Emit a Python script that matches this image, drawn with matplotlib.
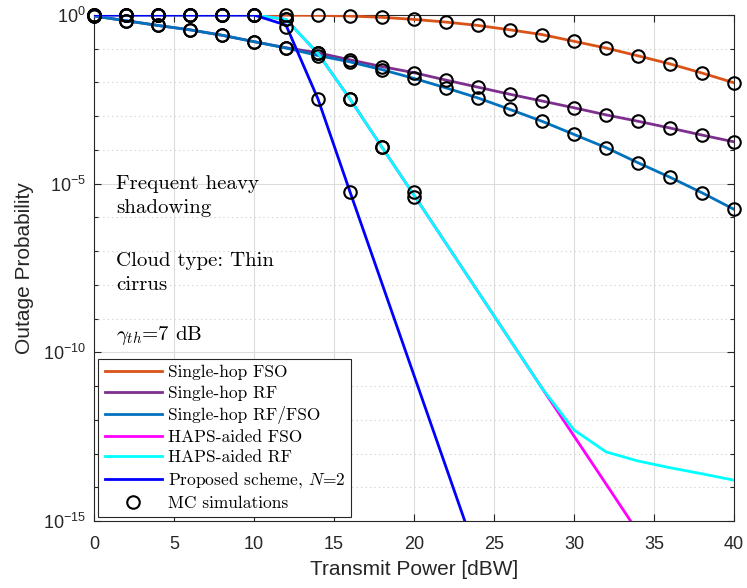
import numpy as np
import matplotlib
matplotlib.use("Agg")
import matplotlib.pyplot as plt
from matplotlib.lines import Line2D
from matplotlib.font_manager import FontProperties
from matplotlib.ticker import LogFormatterSciNotation, NullFormatter

# Outage probabilities, stored as log10 values
x = np.arange(0, 41, 2)
fso_single = [0, 0, 0, 0, 0, -0.003, -0.005, -0.01, -0.03, -0.07, -0.13,
              -0.21, -0.31, -0.44, -0.58, -0.78, -0.98, -1.21, -1.45, -1.72, -2.01]
rf_single = [-0.03, -0.17, -0.31, -0.44, -0.60, -0.79, -0.97, -1.12, -1.33, -1.53, -1.71,
             -1.93, -2.14, -2.35, -2.55, -2.75, -2.96, -3.15, -3.35, -3.56, -3.76]
rffso_single = [-0.03, -0.17, -0.31, -0.44, -0.60, -0.79, -0.98, -1.20, -1.39, -1.62, -1.88,
                -2.16, -2.46, -2.80, -3.15, -3.54, -3.93, -4.38, -4.81, -5.27, -5.76]
haps_fso = [0, 0, 0, 0, 0, 0, -0.13, -1.14, -2.49, -3.92, -5.34,
            -6.77, -8.20, -9.63, -11.06, -12.48, -13.90, -15.33, -16.75, -18.20, -19.60]
haps_rf = [0, 0, 0, 0, 0, 0, -0.13, -1.14, -2.49, -3.92, -5.34,
           -6.77, -8.20, -9.63, -11.06, -12.30, -12.95, -13.22, -13.42, -13.60, -13.79]
x_prop = np.arange(0, 25, 2)
proposed = [0, 0, 0, 0, 0, 0, -0.30, -2.49, -5.24, -7.96, -10.68, -13.40, -16.12]

# Monte Carlo points
x_mc = np.arange(0, 41, 2)
mc_fso = [0, 0, 0, 0, 0, 0, 0, -0.01, -0.03, -0.07, -0.13,
          -0.21, -0.31, -0.44, -0.58, -0.78, -0.98, -1.21, -1.45, -1.72, -2.01]
mc_rf = [-0.03, -0.17, -0.31, -0.44, -0.60, -0.79, -0.97, -1.12, -1.33, -1.53, -1.71,
         -1.93, -2.14, -2.35, -2.55, -2.75, -2.96, -3.15, -3.35, -3.56, -3.76]
mc_rffso = [-0.03, -0.17, -0.31, -0.44, -0.60, -0.79, -0.98, -1.22, -1.39, -1.62, -1.88,
            -2.16, -2.46, -2.80, -3.15, -3.54, -3.93, -4.38, -4.81, -5.27, -5.76]
x_mc_haps = np.arange(0, 21, 2)
mc_haps_fso = [0, 0, 0, 0, 0, 0, -0.13, -1.14, -2.49, -3.92, -5.24]
mc_haps_rf = [0, 0, 0, 0, 0, 0, -0.13, -1.14, -2.49, -3.92, -5.39]
x_mc_prop = np.arange(0, 17, 2)
mc_prop = [0, 0, 0, 0, 0, 0, -0.36, -2.49, -5.24]

plt.rcParams["font.family"] = "Liberation Sans"
plt.rcParams["mathtext.fontset"] = "custom"
plt.rcParams["mathtext.rm"] = "Liberation Sans"
plt.rcParams["mathtext.it"] = "Liberation Sans:italic"

dark = "#262626"
fig = plt.figure(figsize=(7.47, 5.88), dpi=100)
ax = fig.add_axes([0.1258, 0.1139, 0.8568, 0.8606])

series = [
    (x, fso_single, "#D95319", "Single-hop FSO"),
    (x, rf_single, "#7E2F8E", "Single-hop RF"),
    (x, rffso_single, "#0072BD", "Single-hop RF/FSO"),
    (x, haps_fso, "#FF00FF", "HAPS-aided FSO"),
    (x, haps_rf, "#00FFFF", "HAPS-aided RF"),
    (x_prop, proposed, "#0000FF", "Proposed scheme, $N$=2"),
]
handles = []
for xs, ys, col, lab in series:
    ax.semilogy(xs, 10.0 ** np.array(ys), color=col, lw=2, zorder=3)
    handles.append(Line2D([], [], color=col, lw=2, label=lab))

for xs, ys in [(x_mc, mc_fso), (x_mc, mc_rf), (x_mc, mc_rffso),
               (x_mc_haps, mc_haps_fso), (x_mc_haps, mc_haps_rf), (x_mc_prop, mc_prop)]:
    ax.semilogy(xs, 10.0 ** np.array(ys), "o", mfc="none", mec="black", ms=9, mew=1.5,
                zorder=4, clip_on=False)
handles.append(Line2D([], [], ls="none", marker="o", mfc="none", mec="black", ms=9, mew=1.5,
                      label="MC simulations"))

ax.set_xlim(0, 40)
ax.set_ylim(1e-15, 1)
ax.set_xticks(np.arange(0, 41, 5))
ax.set_yticks([1e-15, 1e-10, 1e-5, 1])
ax.set_yticks([10.0 ** k for k in range(-15, 1)], minor=True)
ax.yaxis.set_major_formatter(LogFormatterSciNotation())
ax.yaxis.set_minor_formatter(NullFormatter())
ax.tick_params(which="both", direction="in", top=True, right=True, colors=dark,
               labelsize=13, length=5, width=0.8)
ax.tick_params(which="minor", length=3)
ax.tick_params(axis="x", pad=11)
ax.tick_params(axis="y", pad=6)
for s in ax.spines.values():
    s.set_color(dark)
    s.set_linewidth(0.8)

ax.grid(which="major", color="#dcdcdc", lw=0.8, ls="-")
ax.grid(which="minor", axis="y", color="#cccccc", lw=0.8, ls=(0, (1, 3)))
ax.set_axisbelow(True)

ax.set_xlabel("Transmit Power [dBW]", fontsize=15, color=dark, labelpad=5)
ax.set_ylabel("Outage Probability", fontsize=15, color=dark, labelpad=6)

cm_font = dict(fontfamily="cmr10", math_fontfamily="cm", fontsize=15, color="black")
ax.text(1.4, 10 ** -5.88, "Frequent heavy\nshadowing", va="baseline", linespacing=1.46, **cm_font)
ax.text(1.4, 10 ** -8.15, "Cloud type: Thin\ncirrus", va="baseline", linespacing=1.46, **cm_font)
ax.text(1.4, 10 ** -9.64, r"$\gamma_{th}$=7 dB", va="baseline", **cm_font)

leg = ax.legend(handles=handles, loc="lower left", bbox_to_anchor=(0.007, 0.008),
                borderaxespad=0, fancybox=False, framealpha=1, edgecolor=dark,
                prop=FontProperties(family="cmr10", math_fontfamily="cm", size=12.5),
                handlelength=3.3, handletextpad=0.35, labelspacing=0.3, borderpad=0.35)
leg.get_frame().set_linewidth(0.8)

plt.savefig("out.png", dpi=100)
